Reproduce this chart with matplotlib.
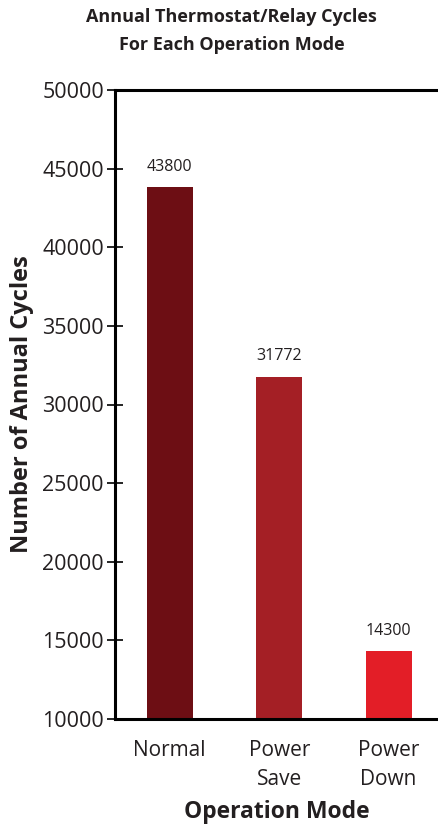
import matplotlib.pyplot as plt
import numpy as np

modes = ["Normal", "Power\nSave", "Power\nDown"]
cycles = [43800, 31772, 14300]
bar_colors = ["#6d0e14", "#a41f25", "#e31e27"]
yticks = [10000, 15000, 20000, 25000, 30000, 35000, 40000, 45000, 50000]

plt.rcParams["font.family"] = ["Open Sans", "DejaVu Sans"]

fig = plt.figure(figsize=(4.39, 8.31), dpi=100)
ax = fig.add_axes([115 / 439, 1 - 719 / 831, 324 / 439, 629 / 831])

x = np.arange(len(modes))
ax.bar(x, cycles, width=0.42, color=bar_colors, zorder=2)
for xi, v in zip(x, cycles):
    ax.text(xi, v + 800, str(v), ha="center", va="bottom", fontsize=11.5, color="#231f20")

ax.set_ylim(10000, 50000)
ax.set_xlim(-0.5, 2.46)
ax.set_yticks(yticks)
ax.set_xticks(x)
ax.set_xticklabels(modes, fontsize=15, color="#231f20", linespacing=1.5)
ax.tick_params(axis="y", direction="inout", length=12, width=1.2, labelsize=15.5,
               labelcolor="#231f20", pad=2)
ax.tick_params(axis="x", length=0, pad=15)
for lbl in ax.get_xticklabels():
    lbl.set_verticalalignment("top")

for side in ["left", "bottom", "top"]:
    ax.spines[side].set_linewidth(2.2)
    ax.spines[side].set_color("#000000")
ax.spines["right"].set_visible(False)

ax.set_ylabel("Number of Annual Cycles", fontsize=17, fontweight="bold",
              color="#231f20", labelpad=6)
ax.set_xlabel("Operation Mode", fontsize=16.5, fontweight="bold", color="#231f20",
              labelpad=7)

fig.text(0.527, 1 - 31 / 831, "Annual Thermostat/Relay Cycles\nFor Each Operation Mode",
         ha="center", va="center", fontsize=13, fontweight="bold",
         color="#231f20", linespacing=1.65)

fig.savefig("out.png", dpi=100)
